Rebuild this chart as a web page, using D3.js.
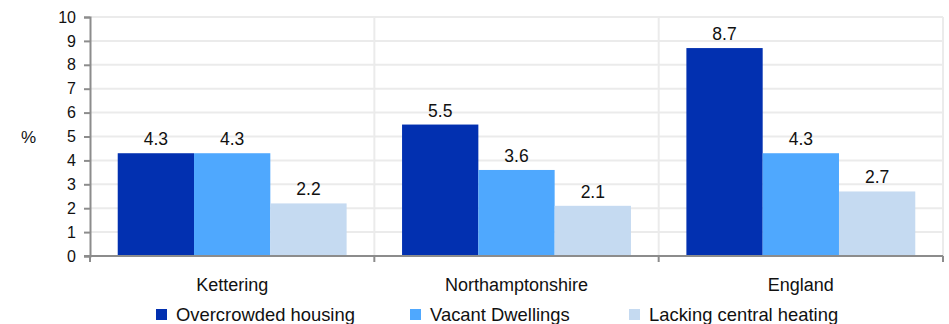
<!DOCTYPE html>
<html>
<head>
<meta charset="utf-8">
<script src="https://cdn.jsdelivr.net/npm/d3@7"></script>
<style>
  html, body { margin: 0; padding: 0; background: #fff; }
  svg { display: block; font-family: "Liberation Sans", Arial, sans-serif; }
</style>
</head>
<body>
<svg id="chart" width="949" height="324"></svg>
<script>
// Housing indicators by area (%)
const categories = ["Kettering", "Northamptonshire", "England"];
const seriesNames = ["Overcrowded housing", "Vacant Dwellings", "Lacking central heating"];
const overcrowded = [4.3, 5.5, 8.7];
const vacant = [4.3, 3.6, 4.3];
const lackingHeating = [2.2, 2.1, 2.7];
const yTicks = [0, 1, 2, 3, 4, 5, 6, 7, 8, 9, 10];
const colors = ["#0230b0", "#4fa8fe", "#c5daf1"];

const series = [overcrowded, vacant, lackingHeating];

const svg = d3.select("#chart");
const margin = { left: 90, right: 6, top: 17, bottom: 68 };
const W = 949, H = 324;
const x0 = margin.left, x1 = W - margin.right;
const yTop = margin.top, yBot = H - margin.bottom;

const x = d3.scaleBand().domain(categories).range([x0, x1]).paddingInner(0).paddingOuter(0);
// bars fill the middle ~81% of each category band
const groupPad = x.bandwidth() * 0.0975;
const xs = d3.scaleBand().domain(d3.range(series.length))
  .range([groupPad, x.bandwidth() - groupPad]).paddingInner(0).paddingOuter(0);

const y = d3.scaleLinear().domain([0, 10]).range([yBot, yTop]);

// gridlines
const grid = svg.append("g");
grid.selectAll("line.h").data(yTicks.filter(d => d > 0)).join("line")
  .attr("x1", x0).attr("x2", x1)
  .attr("y1", d => y(d)).attr("y2", d => y(d))
  .attr("stroke", "#ebebeb").attr("stroke-width", 2);
grid.selectAll("line.v").data(categories.slice(1).map(c => x(c)).concat([x1])).join("line")
  .attr("x1", d => d).attr("x2", d => d)
  .attr("y1", yTop).attr("y2", yBot)
  .attr("stroke", "#ebebeb").attr("stroke-width", 2);

// bars and value labels
const groups = svg.append("g").selectAll("g").data(categories).join("g")
  .attr("transform", c => `translate(${x(c)},0)`);
groups.each(function(c, ci) {
  const g = d3.select(this);
  series.forEach((s, si) => {
    g.append("rect")
      .attr("x", xs(si)).attr("width", xs.bandwidth())
      .attr("y", y(s[ci])).attr("height", yBot - y(s[ci]))
      .attr("fill", colors[si]);
    g.append("text")
      .attr("x", xs(si) + xs.bandwidth() / 2)
      .attr("y", y(s[ci]) - 8)
      .attr("text-anchor", "middle")
      .attr("font-size", 17.5).attr("fill", "#111")
      .text(s[ci].toFixed(1));
  });
});

// y axis
const yAxis = svg.append("g").attr("transform", `translate(${x0},0)`)
  .call(d3.axisLeft(y).tickValues(yTicks).tickSize(6).tickPadding(8).tickFormat(d3.format("d")));
yAxis.select(".domain").attr("stroke", "#8c8c8c").attr("stroke-width", 2);
yAxis.selectAll(".tick line").attr("stroke", "#8c8c8c").attr("stroke-width", 2);
yAxis.selectAll(".tick text").attr("font-size", 16).attr("fill", "#111")
  .attr("font-family", "Liberation Sans, Arial, sans-serif");

// x axis
const xAxisG = svg.append("g");
xAxisG.append("line").attr("x1", x0 - 6).attr("x2", x1)
  .attr("y1", yBot).attr("y2", yBot)
  .attr("stroke", "#8c8c8c").attr("stroke-width", 2);
xAxisG.selectAll("line.t").data([x0].concat(categories.slice(1).map(c => x(c))).concat([x1])).join("line")
  .attr("x1", d => d).attr("x2", d => d)
  .attr("y1", yBot).attr("y2", yBot + 6)
  .attr("stroke", "#8c8c8c").attr("stroke-width", 2);
xAxisG.selectAll("text").data(categories).join("text")
  .attr("x", c => x(c) + x.bandwidth() / 2)
  .attr("y", 291)
  .attr("text-anchor", "middle")
  .attr("font-size", 18).attr("fill", "#111")
  .text(c => c);

// y axis unit
svg.append("text").attr("x", 28.5).attr("y", 143)
  .attr("text-anchor", "middle").attr("font-size", 17).attr("fill", "#111").text("%");

// legend
const legendX = [156, 410, 629];
const legend = svg.append("g").selectAll("g").data(seriesNames).join("g")
  .attr("transform", (d, i) => `translate(${legendX[i]},309)`);
legend.append("rect").attr("width", 11).attr("height", 11).attr("fill", (d, i) => colors[i]);
legend.append("text").attr("x", 20).attr("y", 11.5)
  .attr("font-size", 18.4).attr("fill", "#111").text(d => d);
</script>
</body>
</html>
